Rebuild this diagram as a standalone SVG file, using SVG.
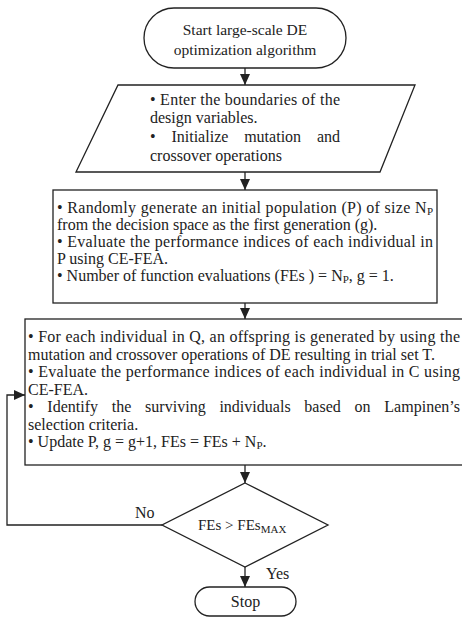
<svg xmlns="http://www.w3.org/2000/svg" width="462" height="618" viewBox="0 0 462 618" font-family="'Liberation Serif', 'Times New Roman', 'DejaVu Serif', serif">
<style>
.s{fill:#fff;stroke:#222;stroke-width:1.3}
.c{fill:none;stroke:#222;stroke-width:1.3}
text{font-family:'Liberation Serif','Times New Roman','DejaVu Serif',serif;font-size:16px;fill:#222}
.m{text-anchor:middle}
.sub{font-size:11px}
</style>
<defs>
<marker id="ah" markerUnits="userSpaceOnUse" markerWidth="11" markerHeight="10" refX="11" refY="5" orient="auto">
<path d="M0,0 L11,5 L0,10 z" fill="#222"/>
</marker>
</defs>
<g id="connectors">
<line class="c" x1="245" y1="68" x2="245" y2="85" marker-end="url(#ah)"/>
<line class="c" x1="245" y1="172" x2="245" y2="190" marker-end="url(#ah)"/>
<line class="c" x1="245" y1="303" x2="245" y2="319" marker-end="url(#ah)"/>
<line class="c" x1="245" y1="465" x2="245" y2="483" marker-end="url(#ah)"/>
<line class="c" x1="245" y1="567" x2="245" y2="587" marker-end="url(#ah)"/>
<polyline class="c" points="162,525 7,525 7,395 25,395" marker-end="url(#ah)"/>
<text x="135" y="518">No</text>
<text x="266" y="579">Yes</text>
</g>
<g id="start">
<rect class="s" x="144" y="8" width="202" height="60" rx="30" ry="30"/>
<text class="m" x="245" y="35" style="font-size:15.5px">Start large-scale DE</text>
<text class="m" x="245" y="55" style="font-size:15.5px">optimization algorithm</text>
</g>
<g id="input">
<polygon class="s" points="118,85 415,85 380,172 76,172"/>
<text x="150" y="105" textLength="190" lengthAdjust="spacing">• Enter the boundaries of the</text>
<text x="150" y="123">design variables.</text>
<text x="150" y="142" word-spacing="11.8" textLength="190" lengthAdjust="spacing">• Initialize mutation and</text>
<text x="150" y="161">crossover operations</text>
</g>
<g id="init">
<rect class="s" x="53" y="190" width="384" height="113"/>
<text x="57" y="213" textLength="376" lengthAdjust="spacing">• Randomly generate an initial population (P) of size N<tspan class="sub" dy="2">P</tspan></text>
<text x="57" y="230">from the decision space as the first generation (g).</text>
<text x="57" y="247" textLength="376" lengthAdjust="spacing">• Evaluate the performance indices of each individual in</text>
<text x="57" y="264">P using CE-FEA.</text>
<text x="57" y="281">• Number of function evaluations (FEs ) = N<tspan class="sub" dy="2">P</tspan><tspan dy="-2">, g = 1.</tspan></text>
</g>
<g id="loop">
<rect class="s" x="25" y="319" width="450" height="146"/>
<text x="28" y="342" textLength="432" lengthAdjust="spacing">• For each individual in Q, an offspring is generated by using the</text>
<text x="28" y="359.5">mutation and crossover operations of DE resulting in trial set T.</text>
<text x="28" y="377" textLength="432" lengthAdjust="spacing">• Evaluate the performance indices of each individual in C using</text>
<text x="28" y="394.5">CE-FEA.</text>
<text x="28" y="412" word-spacing="9.7" textLength="432" lengthAdjust="spacing">• Identify the surviving individuals based on Lampinen’s</text>
<text x="28" y="429.5">selection criteria.</text>
<text x="28" y="447">• Update P, g = g+1, FEs = FEs + N<tspan class="sub" dy="2">P</tspan><tspan dy="-2">.</tspan></text>
</g>
<g id="decision">
<polygon class="s" points="245,483 328,525 245,567 162,525"/>
<text x="198" y="530" style="font-size:15px">FEs &gt; FEs<tspan class="sub" dy="3">MAX</tspan></text>
</g>
<g id="stop">
<rect class="s" x="195" y="587" width="101" height="29" rx="14.5" ry="14.5"/>
<text class="m" x="245.5" y="607">Stop</text>
</g>
</svg>
